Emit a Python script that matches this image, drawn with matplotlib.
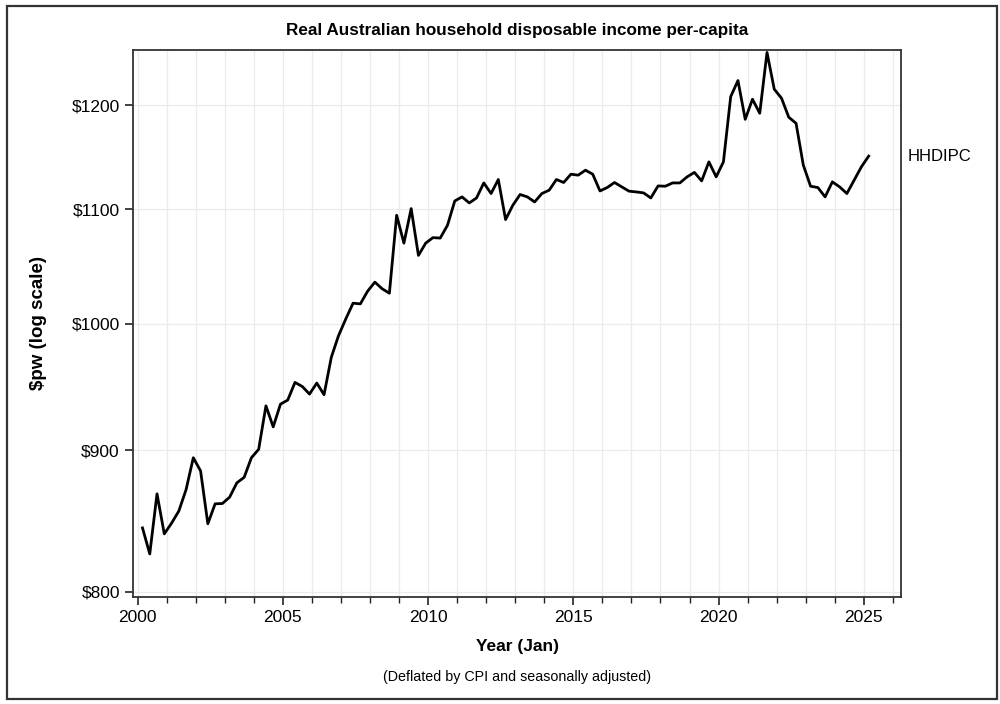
import numpy as np
import matplotlib
matplotlib.use('Agg')
import matplotlib.pyplot as plt
from matplotlib.patches import Rectangle
from matplotlib.ticker import FixedLocator, NullLocator, FuncFormatter

plt.rcParams['font.family'] = ['Liberation Sans', 'DejaVu Sans']

#quarterly data, first point 2000 Q1 (plotted at start of quarter-end month)
start_year = 2000
hhdipc = [
    843.7, 825.6, 868.0, 839.5,      # 2000
    847.0, 855.6, 871.0, 894.5,      # 2001
    884.7, 846.6, 860.8, 861.0,      # 2002
    865.6, 876.0, 880.0, 894.5,      # 2003
    900.8, 934.0, 917.8, 935.3,      # 2004
    938.5, 952.4, 949.2, 943.2,      # 2005
    951.9, 942.7, 972.5, 990.3,      # 2006
    1004.2, 1017.4, 1016.8, 1027.6,  # 2007
    1035.4, 1029.7, 1025.9, 1094.7,  # 2008
    1069.6, 1100.8, 1058.7, 1069.6,  # 2009
    1074.5, 1074.1, 1085.6, 1107.8,  # 2010
    1111.6, 1106.0, 1110.6, 1124.6,  # 2011
    1114.7, 1127.8, 1090.8, 1103.9,  # 2012
    1113.8, 1111.6, 1106.9, 1114.7,  # 2013
    1117.8, 1127.8, 1125.0, 1132.8,  # 2014
    1131.9, 1136.6, 1132.8, 1117.1,  # 2015
    1120.3, 1125.0, 1120.9, 1116.9,  # 2016
    1116.2, 1115.3, 1110.6, 1121.8,  # 2017
    1121.5, 1124.6, 1124.6, 1130.3,  # 2018
    1134.5, 1126.5, 1144.5, 1130.3,  # 2019
    1144.5, 1208.4, 1224.7, 1185.8,  # 2020
    1205.8, 1191.8, 1253.7, 1215.9,  # 2021
    1206.8, 1187.8, 1181.9, 1141.4,  # 2022
    1121.5, 1120.3, 1111.6, 1125.6,  # 2023
    1120.9, 1114.7, 1127.2, 1139.8,  # 2024
    1150.0,                          # 2025
]
yticks = [800, 900, 1000, 1100, 1200]
xticks = [2000, 2005, 2010, 2015, 2020, 2025]

n = len(hhdipc)
x = np.array([start_year + (i // 4) + (3 * (i % 4 + 1) - 1) / 12 for i in range(n)])

fig = plt.figure(figsize=(10, 7.04), dpi=100)
ax = fig.add_axes([0.133, 0.1524, 0.7683, 0.7766])

ax.plot(x, hhdipc, color='black', lw=2.0, zorder=3)

ax.set_yscale('log')
ax.set_ylim(796.7, 1256.3)
ax.set_xlim(1999.84, 2026.29)

ax.yaxis.set_major_locator(FixedLocator(yticks))
ax.yaxis.set_minor_locator(NullLocator())
ax.yaxis.set_major_formatter(FuncFormatter(lambda v, p: '$%d' % round(v)))
ax.xaxis.set_major_locator(FixedLocator(xticks))
ax.xaxis.set_minor_locator(FixedLocator(range(2000, 2027)))

ax.grid(True, which='both', color='#ebebeb', lw=0.9, zorder=0)
ax.tick_params(which='major', length=6, width=1.2, labelsize=12.5, color='#222222')
ax.tick_params(which='minor', length=4, width=1.0, color='#222222')
for s in ax.spines.values():
    s.set_linewidth(1.3)
    s.set_color('#333333')

ax.set_xlabel('Year (Jan)', fontsize=12.5, fontweight='bold', labelpad=10)
ax.set_ylabel('$pw (log scale)', fontsize=13.5, fontweight='bold', labelpad=18)
ax.set_title('Real Australian household disposable income per-capita',
             fontsize=12.3, fontweight='bold', pad=11)

ax.annotate('HHDIPC', xy=(x[-1], hhdipc[-1]), xytext=(28, 0),
            textcoords='offset points', va='center', ha='left', fontsize=12)

fig.text(0.517, 0.038, '(Deflated by CPI and seasonally adjusted)',
         ha='center', va='center', fontsize=10.3)

#outer frame
fig.patches.append(Rectangle((0.0065, 0.007), 0.990, 0.984, transform=fig.transFigure,
                             fill=False, edgecolor='#333333', lw=1.6))

fig.savefig('out.png', dpi=100)
